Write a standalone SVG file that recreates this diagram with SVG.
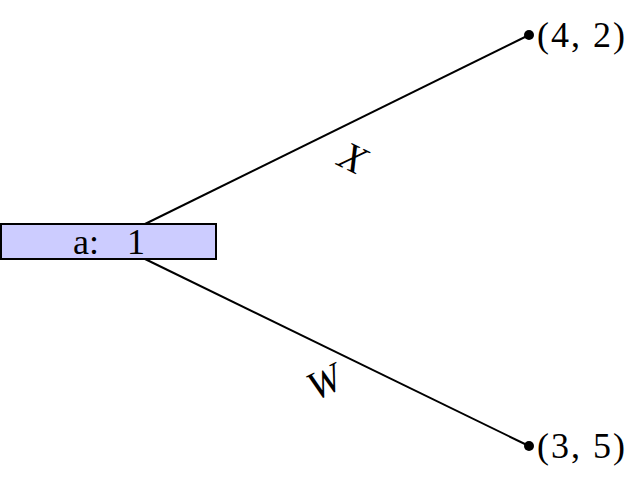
<svg xmlns="http://www.w3.org/2000/svg" width="643" height="483" viewBox="0 0 643 483">
<style>
.t{font-family:"Liberation Serif","DejaVu Serif",serif;font-size:36px;fill:#000}
.i{font-style:italic;font-size:40px}
.c{letter-spacing:2px}
.e{stroke:#000;stroke-width:2;fill:none}
</style>
<rect width="643" height="483" fill="#fff"/>
<g id="edges">
<line class="e" x1="145" y1="224" x2="529" y2="35"/>
<line class="e" x1="145" y1="259" x2="529" y2="446"/>
<text class="t i" text-anchor="middle" transform="translate(347,170) rotate(26.2)">X</text>
<text class="t i" text-anchor="middle" transform="translate(330,394) rotate(-26)">W</text>
</g>
<g id="root">
<rect x="1" y="224" width="215" height="35" fill="#ccccff" stroke="#000" stroke-width="2"/>
<text class="t" y="254"><tspan x="73">a:</tspan><tspan x="127">1</tspan></text>
</g>
<g id="n42">
<circle cx="529" cy="35" r="5" fill="#000"/>
<text class="t c" x="537" y="47">(4, 2)</text>
</g>
<g id="n35">
<circle cx="529" cy="446" r="5" fill="#000"/>
<text class="t c" x="537" y="458">(3, 5)</text>
</g>
</svg>
